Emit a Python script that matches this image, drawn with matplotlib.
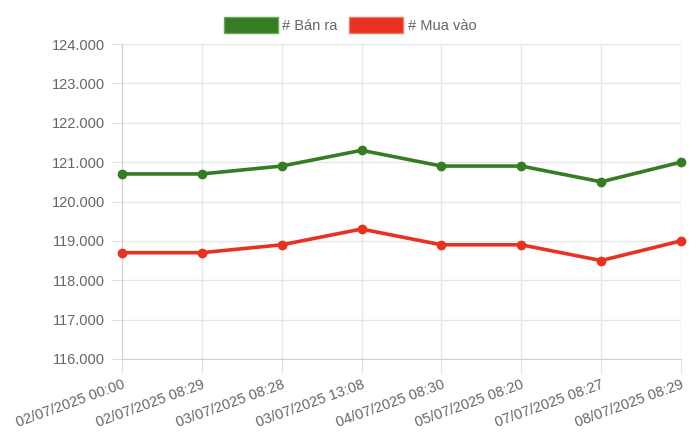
import matplotlib.pyplot as plt
from matplotlib.patches import Patch

plt.rcParams['font.family'] = ['Liberation Sans', 'DejaVu Sans']

labels = ['02/07/2025 00:00', '02/07/2025 08:29', '03/07/2025 08:28', '03/07/2025 13:08',
          '04/07/2025 08:30', '05/07/2025 08:20', '07/07/2025 08:27', '08/07/2025 08:29']
ban_ra = [120.7, 120.7, 120.9, 121.3, 120.9, 120.9, 120.5, 121.0]
mua_vao = [118.7, 118.7, 118.9, 119.3, 118.9, 118.9, 118.5, 119.0]
yticks = [116, 117, 118, 119, 120, 121, 122, 123, 124]

green = '#367c22'
red = '#e8321f'

fig = plt.figure(figsize=(7, 4.34), dpi=100)
ax = fig.add_axes([122/700, 1 - 359/434, (681 - 122)/700, (359 - 44)/434])

x = list(range(len(labels)))
ax.plot(x, ban_ra, color=green, lw=2.6, marker='o', ms=6, zorder=3, clip_on=False)
ax.plot(x, mua_vao, color=red, lw=2.6, marker='o', ms=6, zorder=3, clip_on=False)

ax.set_xlim(0, len(labels) - 1)
ax.set_ylim(116, 124)
ax.set_yticks(yticks)
ax.set_yticklabels([f'{v}.000' for v in yticks])
ax.set_xticks(x)
ax.set_xticklabels(labels, rotation=20, ha='right', rotation_mode='anchor')

ax.grid(True, color='#e6e6e6', lw=1)
ax.set_axisbelow(True)
for s in ['top', 'right']:
    ax.spines[s].set_visible(False)
for s in ['left', 'bottom']:
    ax.spines[s].set_color('#d0d0d0')
ax.tick_params(axis='y', length=8, color='#e0e0e0', labelsize=10.5, labelcolor='#666666', pad=4)
ax.tick_params(axis='x', length=10, color='#e0e0e0', labelsize=10.5, labelcolor='#666666', pad=3)

handles = [Patch(facecolor=green, edgecolor='#6fa35f', label='# Bán ra'),
           Patch(facecolor=red, edgecolor='#f07a6c', label='# Mua vào')]
fig.legend(handles=handles, loc='center', bbox_to_anchor=(0.5, 1 - 25/434), ncol=2,
           frameon=False, handlelength=3.7, handleheight=1.3, handletextpad=0.3,
           columnspacing=0.8, fontsize=10.5, labelcolor='#666666')

fig.savefig('out.png', dpi=100)
